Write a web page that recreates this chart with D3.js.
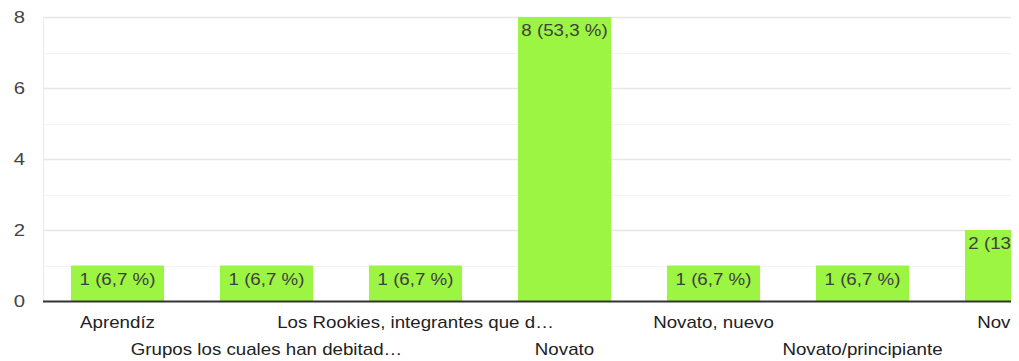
<!DOCTYPE html>
<html><head><meta charset="utf-8">
<script src="https://cdn.jsdelivr.net/npm/d3@7"></script>
<style>html,body{margin:0;padding:0;background:#fff;overflow:hidden}svg{display:block}</style>
</head><body>
<script>
const categories = ["Aprendíz","Grupos los cuales han debitad…","Los Rookies, integrantes que d…","Novato","Novato, nuevo","Novato/principiante","Novatos"];
const values = [1,1,1,8,1,1,2];
const valueLabels = ["1 (6,7 %)","1 (6,7 %)","1 (6,7 %)","8 (53,3 %)","1 (6,7 %)","1 (6,7 %)","2 (13,3 %)"];
const yTicks = [0,2,4,6,8];
const yGrid = [1,2,3,4,5,6,7,8];

(function(){
const W = 1019, H = 361;
const mLeft = 43, mTop = 17, mBottom = 301, clipRight = 1011;
const step = 149;
const sx = 1.17;

const svg = d3.select("body").append("svg").attr("width", W).attr("height", H)
  .style("font-family", "Arial, 'Liberation Sans', sans-serif");
svg.append("defs").append("clipPath").attr("id","clip")
  .append("rect").attr("x",0).attr("y",0).attr("width",clipRight).attr("height",H);
const g = svg.append("g").attr("clip-path","url(#clip)");

const x = d3.scaleBand().domain(categories).range([mLeft, mLeft + step*categories.length]).paddingInner(0.375).paddingOuter(0.1875);
const y = d3.scaleLinear().domain([0,8]).range([mBottom, mTop]);

g.selectAll(".grid").data(yGrid).enter().append("line")
  .attr("x1", mLeft).attr("x2", clipRight)
  .attr("y1", d=>Math.round(y(d))+0.5).attr("y2", d=>Math.round(y(d))+0.5)
  .attr("stroke", d=> d%2===0 ? "#e6e6e6" : "#f3f3f3").attr("stroke-width", d=> d%2===0 ? 1.5 : 1);
g.append("line").attr("x1", mLeft+0.5).attr("x2", mLeft+0.5).attr("y1", mTop).attr("y2", mBottom)
  .attr("stroke", "#ebebeb");

g.selectAll(".bar").data(categories).enter().append("rect")
  .attr("x", d=>x(d)).attr("width", x.bandwidth())
  .attr("y", (d,i)=>y(values[i])).attr("height", (d,i)=>y(0)-y(values[i]))
  .attr("fill", "#9cf443");

g.selectAll(".vl").data(categories).enter().append("text")
  .attr("transform", (d,i)=>`translate(${x(d)+x.bandwidth()/2},${y(values[i])+19}) scale(${sx},1)`)
  .attr("text-anchor","middle").attr("font-size",16).attr("fill","#404040")
  .text((d,i)=>valueLabels[i]);

g.append("line").attr("x1", mLeft).attr("x2", clipRight).attr("y1", mBottom+0.5).attr("y2", mBottom+0.5)
  .attr("stroke", "#333").attr("stroke-width", 2);

g.selectAll(".xl").data(categories).enter().append("text")
  .attr("transform", (d,i)=>`translate(${x(d)+x.bandwidth()/2},${i%2===0 ? 328 : 355}) scale(${sx},1)`)
  .attr("text-anchor","middle").attr("font-size",16).attr("fill","#222")
  .text(d=>d);

svg.selectAll(".yl").data(yTicks).enter().append("text")
  .attr("transform", d=>`translate(25,${y(d)+6}) scale(${sx+0.1},1)`)
  .attr("text-anchor","end").attr("font-size",16).attr("fill","#444")
  .text(d=>d);
})();
</script>
</body></html>
